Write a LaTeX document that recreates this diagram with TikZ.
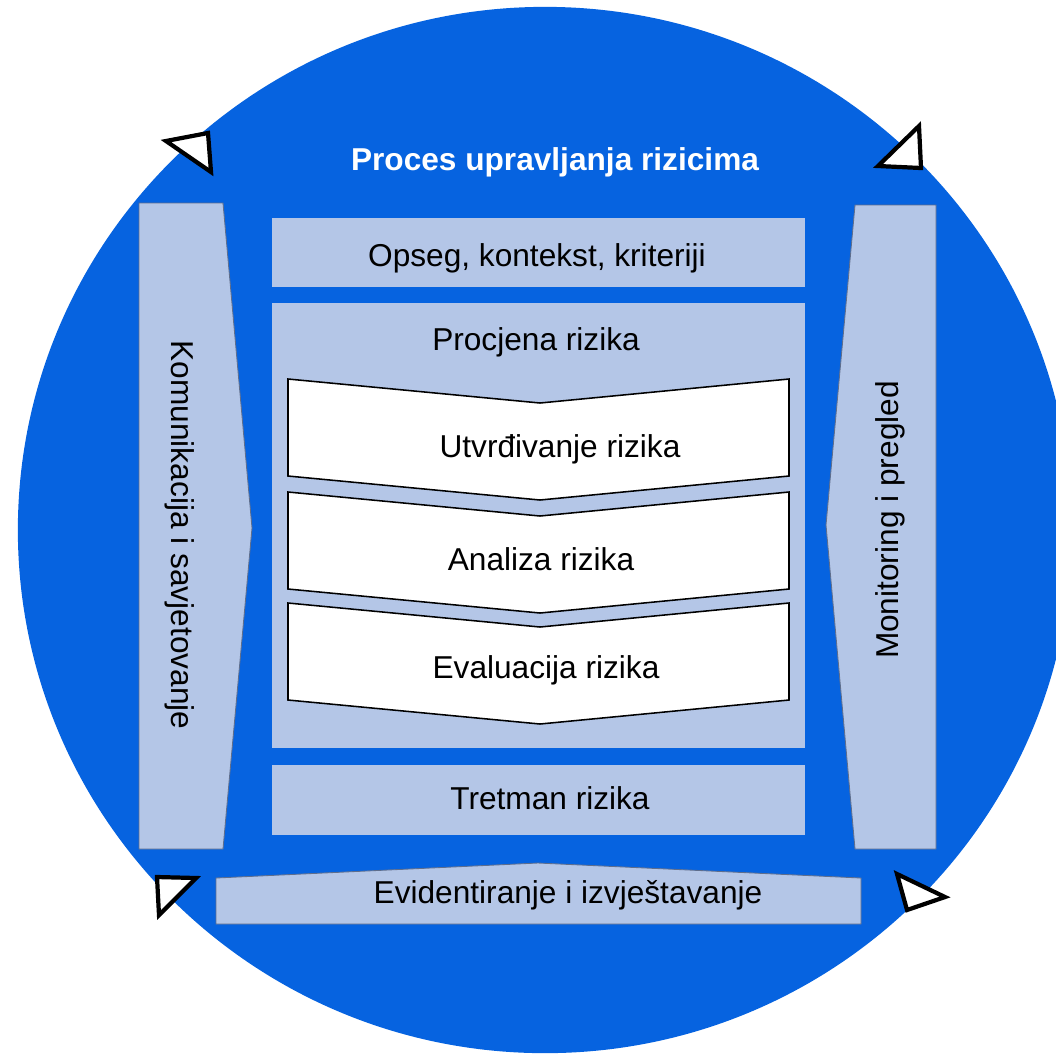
\documentclass[tikz,border=0pt]{standalone}
\usepackage{fontspec}
\setmainfont{Liberation Sans}
\definecolor{ringblue}{RGB}{6,99,224}
\definecolor{panelfill}{RGB}{180,198,231}
\definecolor{panelline}{RGB}{95,110,140}
\tikzset{
  lbl/.style={font=\fontsize{22.5}{27}\selectfont, inner sep=0pt},
  band/.style={fill=panelfill, minimum width=13.325cm, inner sep=0pt},
  sidepanel/.style={fill=panelfill, draw=panelline, line width=0.6pt},
  chev/.style={fill=white, draw=black, line width=1.1pt},
  marker/.style={fill=white, draw=black, line width=3pt, line join=miter}
}

\begin{document}
\begin{tikzpicture}[x=0.025cm, y=-0.025cm]
        \useasboundingbox (0,0) rectangle (1056,1055);
        \begin{scope}
          \clip (0,0) rectangle (1056,1055);
          \fill[ringblue] (545,530) ellipse [x radius=13.175cm, y radius=13.075cm];
        \end{scope}
        \node[lbl, text=white, font=\fontsize{22.5}{27}\selectfont\bfseries] (title) at (555,162) {Proces upravljanja rizicima};

        % side panels
        \draw[sidepanel] (139,203) -- (223,203) -- (252,528) -- (223,849) -- (139,849) -- cycle;
        \node[lbl, rotate=-90] (komunik) at (180,535) {Komunikacija i savjetovanje};
        \draw[sidepanel] (855,205) -- (936,205) -- (936,849) -- (855,849) -- (826,525) -- cycle;
        \node[lbl, rotate=90] (monitor) at (890,520) {Monitoring i pregled};
        \draw[sidepanel] (216,878) -- (538,863) -- (861,878) -- (861,924) -- (216,924) -- cycle;
        \node[lbl] (evid) at (568,895) {Evidentiranje i izvještavanje};

        % middle column
        \node[band, minimum height=1.725cm] (opseg) at (538.5,252.5) {};
        \node[lbl] (opsegtxt) at (537,258) {Opseg, kontekst, kriteriji};
        \node[band, minimum height=11.125cm] (procjena) at (538.5,525.5) {};
        \node[lbl] (procjenatxt) at (536,342) {Procjena rizika};
        \foreach \y/\tx/\ty/\name/\txt in {379/560/449/utvrd/Utvrđivanje rizika, 492/541/559/analiza/Analiza rizika, 603/546/670/evalua/Evaluacija rizika} {
          \draw[chev] (288,\y) -- (540,\y+24) -- (789,\y) -- (789,\y+97) -- (540,\y+121) -- (288,\y+97) -- cycle;
          \node[lbl] (\name) at (\tx,\ty) {\txt};
        }
        \node[band, minimum height=1.75cm] (tretman) at (538.5,800) {};
        \node[lbl] (tretmantxt) at (550,798) {Tretman rizika};

        % corner markers
        \draw[marker] (166,141) -- (208,133) -- (211,172) -- cycle;
        \draw[marker] (878,166) -- (919,126) -- (921,168) -- cycle;
        \draw[marker] (157,877) -- (196,878) -- (159,915) -- cycle;
        \draw[marker] (897,874) -- (945,897) -- (907,910) -- cycle;
      \end{tikzpicture}
\end{document}
